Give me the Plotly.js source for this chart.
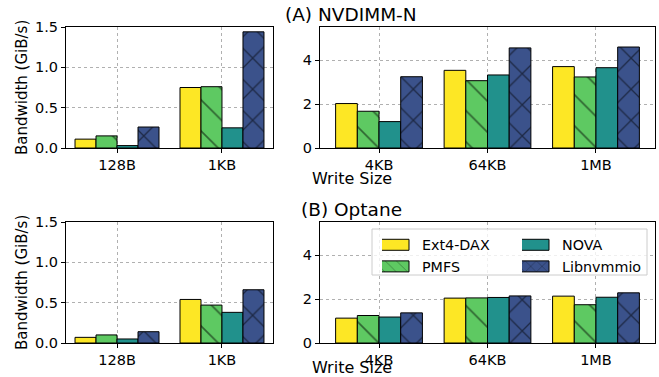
<!DOCTYPE html>
<html>
<head>
<meta charset="utf-8">
<script src="https://cdn.plot.ly/plotly-3.0.1.min.js"></script>
<style>html,body{margin:0;padding:0;background:#fff;}#chart{width:659px;height:377px;}</style>
</head>
<body>
<div id="chart"></div>
<script>
// Categories (write sizes)
const sizes = ['128B', '1KB', '4KB', '64KB', '1MB'];
const seriesNames = ['Ext4-DAX', 'PMFS', 'NOVA', 'Libnvmmio'];

// Bandwidth (GiB/s) - NVDIMM-N
const ext4Nvdimm = [0.11, 0.75, 2.02, 3.53, 3.70];
const pmfsNvdimm = [0.15, 0.76, 1.67, 3.06, 3.23];
const novaNvdimm = [0.03, 0.25, 1.20, 3.32, 3.65];
const libNvdimm  = [0.26, 1.44, 3.24, 4.55, 4.59];

// Bandwidth (GiB/s) - Optane
const ext4Optane = [0.07, 0.54, 1.13, 2.04, 2.13];
const pmfsOptane = [0.10, 0.47, 1.25, 2.05, 1.74];
const novaOptane = [0.05, 0.38, 1.18, 2.07, 2.08];
const libOptane  = [0.14, 0.66, 1.37, 2.14, 2.28];

const colors = ['#fde725', '#5ec962', '#21918c', '#3b528b'];
const patterns = ['', '\\', '', 'x'];
const solidities = [0, 0.075, 0, 0.115];
const legendRank = [1, 3, 2, 4];
const legendIds = ['legend', 'legend', 'legend2', 'legend2'];

const W = 659, H = 377;
const px = v => v / W;
const py = v => 1 - v / H;
const FONT = 'DejaVu Sans';

const devices = [
  [ext4Nvdimm, pmfsNvdimm, novaNvdimm, libNvdimm],
  [ext4Optane, pmfsOptane, novaOptane, libOptane]
];

const traces = [];
devices.forEach((dev, d) => {
  [[0, 2], [2, 5]].forEach((sl, p) => {
    const axIdx = d * 2 + p + 1;
    dev.forEach((vals, s) => {
      const marker = {color: colors[s], line: {color: '#000', width: 1}};
      if (patterns[s]) {
        marker.pattern = {shape: patterns[s], fgcolor: '#000', bgcolor: colors[s], fillmode: 'overlay', size: 22, solidity: solidities[s]};
      }
      traces.push({
        type: 'bar',
        name: seriesNames[s],
        x: sizes.slice(sl[0], sl[1]),
        y: vals.slice(sl[0], sl[1]),
        xaxis: 'x' + (axIdx === 1 ? '' : axIdx),
        yaxis: 'y' + (axIdx === 1 ? '' : axIdx),
        marker: marker,
        showlegend: axIdx === 1,
        legend: legendIds[s],
        legendrank: legendRank[s],
        hoverinfo: 'skip'
      });
    });
  });
});

const xDomL = [px(66), px(273)];
const xDomR = [px(320), px(655)];
const yDomT = [py(148), py(27)];
const yDomB = [py(343), py(222)];

function xax(domain, anchor, range) {
  return {
    domain: domain, anchor: anchor, type: 'category', range: range,
    showline: true, mirror: true, linecolor: '#000', linewidth: 1,
    showgrid: true, gridcolor: '#b0b0b0', griddash: 'dot', gridwidth: 1,
    ticks: 'outside', ticklen: 4, tickcolor: '#000',
    tickfont: {family: FONT, size: 14.5, color: '#000'}, zeroline: false, fixedrange: true
  };
}
function yax(domain, anchor, range, dtick, fmt) {
  return {
    domain: domain, anchor: anchor, range: range, dtick: dtick, tick0: 0, tickformat: fmt,
    showline: true, mirror: true, linecolor: '#000', linewidth: 1,
    showgrid: true, gridcolor: '#b0b0b0', griddash: 'dot', gridwidth: 1,
    ticks: 'outside', ticklen: 4, tickcolor: '#000',
    tickfont: {family: FONT, size: 14.5, color: '#000'}, zeroline: false, fixedrange: true
  };
}

const layout = {
  width: W, height: H,
  margin: {l: 0, r: 0, t: 0, b: 0},
  paper_bgcolor: '#fff', plot_bgcolor: '#fff',
  font: {family: FONT, color: '#000'},
  barmode: 'group', bargap: 0.2, bargroupgap: 0,
  xaxis:  xax(xDomL, 'y',  [-0.486, 1.486]),
  xaxis2: xax(xDomR, 'y2', [-0.544, 2.544]),
  xaxis3: xax(xDomL, 'y3', [-0.486, 1.486]),
  xaxis4: xax(xDomR, 'y4', [-0.544, 2.544]),
  yaxis:  yax(yDomT, 'x',  [0, 1.5], 0.5, '.1f'),
  yaxis2: yax(yDomT, 'x2', [0, 5.5], 2, 'd'),
  yaxis3: yax(yDomB, 'x3', [0, 1.5], 0.5, '.1f'),
  yaxis4: yax(yDomB, 'x4', [0, 5.5], 2, 'd'),
  legend: {x: px(382), y: py(229), xanchor: 'left', yanchor: 'top', orientation: 'v',
    bgcolor: 'rgba(0,0,0,0)', borderwidth: 0, font: {family: FONT, size: 14.3}, itemwidth: 30, tracegroupgap: 0},
  legend2: {x: px(522), y: py(229), xanchor: 'left', yanchor: 'top', orientation: 'v',
    bgcolor: 'rgba(0,0,0,0)', borderwidth: 0, font: {family: FONT, size: 14.3}, itemwidth: 30, tracegroupgap: 0},
  shapes: [{
    type: 'rect', xref: 'paper', yref: 'paper',
    x0: px(372), x1: px(647), y0: py(275), y1: py(229),
    line: {color: '#cccccc', width: 1}, fillcolor: 'rgba(255,255,255,0.8)', layer: 'above'
  }],
  annotations: [
    {text: '(A) NVDIMM-N', xref: 'paper', yref: 'paper', x: px(351), y: py(15), xanchor: 'center', yanchor: 'middle', showarrow: false, font: {family: FONT, size: 18.5, color: '#000'}},
    {text: '(B) Optane', xref: 'paper', yref: 'paper', x: px(351), y: py(209), xanchor: 'center', yanchor: 'middle', showarrow: false, font: {family: FONT, size: 18.5, color: '#000'}},
    {text: 'Write Size', xref: 'paper', yref: 'paper', x: px(351.5), y: py(178), xanchor: 'center', yanchor: 'middle', showarrow: false, font: {family: FONT, size: 16, color: '#000'}},
    {text: 'Write Size', xref: 'paper', yref: 'paper', x: px(351.5), y: py(367), xanchor: 'center', yanchor: 'middle', showarrow: false, font: {family: FONT, size: 16, color: '#000'}},
    {text: 'Bandwidth (GiB/s)', xref: 'paper', yref: 'paper', x: px(21.5), y: py(87.5), xanchor: 'center', yanchor: 'middle', textangle: -90, showarrow: false, font: {family: FONT, size: 15, color: '#000'}},
    {text: 'Bandwidth (GiB/s)', xref: 'paper', yref: 'paper', x: px(21.5), y: py(282.5), xanchor: 'center', yanchor: 'middle', textangle: -90, showarrow: false, font: {family: FONT, size: 15, color: '#000'}}
  ]
};

Plotly.newPlot('chart', traces, layout, {staticPlot: true, displayModeBar: false}).then(function () {
  document.querySelectorAll('.legendpoints path').forEach(function (p) {
    p.setAttribute('d', 'M7,5.5H-23V-5.5H7Z');
  });
});
</script>
</body>
</html>
